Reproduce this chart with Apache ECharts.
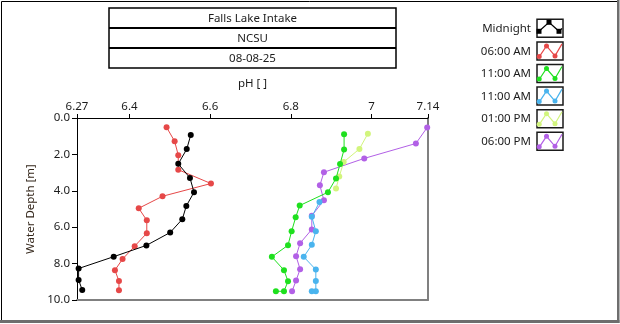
<!DOCTYPE html>
<html>
<head>
<meta charset="utf-8">
<script src="https://cdn.jsdelivr.net/npm/echarts@6/dist/echarts.min.js"></script>
<style>
  html, body { margin: 0; padding: 0; background: #fff; }
  #chart { width: 620px; height: 324px; }
</style>
</head>
<body>
<div id="chart"></div>
<script>
// Header lines
const titleLines = ['Falls Lake Intake', 'NCSU', '08-08-25'];

// pH axis tick labels
const phTicks = [6.27, 6.4, 6.6, 6.8, 7, 7.14];

// Profile names (legend) and colours
const seriesNames = ['Midnight', '06:00 AM', '11:00 AM', '11:00 AM', '01:00 PM', '06:00 PM'];
const seriesColors = ['#000000', '#e64848', '#1ee01e', '#4ab4ee', '#d2f57d', '#b260e6'];

// Depth [m] and pH for each profile
const midnightDepth = [0.93, 1.71, 2.52, 3.29, 4.08, 4.83, 5.56, 6.29, 7.0, 7.62, 8.27, 8.9, 9.45];
const midnightPH    = [6.552, 6.542, 6.521, 6.550, 6.560, 6.541, 6.531, 6.501, 6.442, 6.361, 6.274, 6.274, 6.283];

const am6Depth = [0.51, 1.28, 2.04, 2.84, 3.6, 4.3, 4.96, 5.62, 6.33, 7.04, 7.75, 8.36, 8.96, 9.47];
const am6PH    = [6.492, 6.512, 6.521, 6.521, 6.602, 6.482, 6.423, 6.443, 6.443, 6.413, 6.383, 6.364, 6.374, 6.374];

const am11aDepth = [0.89, 1.73, 2.53, 3.32, 4.08, 4.81, 5.46, 6.22, 6.99, 7.63, 8.36, 8.97, 9.52, 9.52];
const am11aPH    = [6.932, 6.932, 6.922, 6.912, 6.892, 6.822, 6.812, 6.802, 6.793, 6.753, 6.783, 6.793, 6.783, 6.763];

const am11bDepth = [4.62, 5.43, 6.22, 6.97, 7.63, 8.33, 8.96, 9.52, 9.52];
const am11bPH    = [6.871, 6.852, 6.862, 6.852, 6.832, 6.862, 6.862, 6.862, 6.852];

const pm1Depth = [0.86, 1.70, 2.42, 3.22, 3.87];
const pm1PH    = [6.991, 6.970, 6.931, 6.920, 6.912];

const pm6Depth = [0.52, 1.40, 2.22, 2.98, 3.70, 4.52, 5.37, 6.12, 6.88, 7.59, 8.31, 8.93, 9.52];
const pm6PH    = [7.138, 7.110, 6.982, 6.882, 6.872, 6.882, 6.852, 6.852, 6.823, 6.813, 6.823, 6.813, 6.803];

const profiles = [
  [midnightPH, midnightDepth],
  [am6PH, am6Depth],
  [am11aPH, am11aDepth],
  [am11bPH, am11bDepth],
  [pm1PH, pm1Depth],
  [pm6PH, pm6Depth]
];

const FONT = '"Noto Sans", "Open Sans", sans-serif';
const FS = 11.5;
const TEXT = '#1c1c1c';

const chart = echarts.init(document.getElementById('chart'), null, { renderer: 'canvas' });

const series = profiles.map((p, i) => ({
  name: seriesNames[i],
  type: 'line',
  xAxisIndex: 0,
  yAxisIndex: 0,
  data: p[0].map((v, k) => [v, p[1][k]]),
  symbol: 'circle',
  symbolSize: 6,
  showSymbol: true,
  clip: false,
  lineStyle: { color: seriesColors[i], width: 1 },
  itemStyle: { color: seriesColors[i] },
  emphasis: { disabled: true },
  z: 10 - i
}));

// ---- header boxes ----
const graphics = [];
const hx = 109, hw = 287, hy = 8, rowH = 20;
graphics.push({
  type: 'rect', shape: { x: hx, y: hy, width: hw, height: rowH * 3 },
  style: { fill: '#fff', stroke: '#000', lineWidth: 1.5 }
});
for (let r = 1; r < 3; r++) {
  graphics.push({
    type: 'line', shape: { x1: hx, y1: hy + rowH * r, x2: hx + hw, y2: hy + rowH * r },
    style: { stroke: '#000', lineWidth: 2.2 }
  });
}
titleLines.forEach((t, r) => {
  graphics.push({
    type: 'text', x: hx + hw / 2, y: hy + rowH * r + rowH / 2 + 0.5,
    style: { text: t, fill: TEXT, font: FS + 'px ' + FONT, align: 'center', verticalAlign: 'middle' }
  });
});

// ---- legend with zigzag swatches ----
const lgTop = 28.3, lgStep = 22.6, boxX = 537, boxW = 26, boxH = 18;
seriesNames.forEach((name, i) => {
  const cy = lgTop + i * lgStep;
  const by = cy - boxH / 2;
  graphics.push({
    type: 'text', x: 531, y: cy + 0.5,
    style: { text: name, fill: TEXT, font: FS + 'px ' + FONT, align: 'right', verticalAlign: 'middle' }
  });
  graphics.push({
    type: 'rect', shape: { x: boxX, y: by, width: boxW, height: boxH },
    style: { fill: '#fff', stroke: '#1a1a1a', lineWidth: 1.5 }
  });
  const col = seriesColors[i];
  let pts, marks, shape;
  if (i === 0) {
    pts = [[boxX + 2, by + 12], [boxX + 12, by + 3], [boxX + 22, by + 12], [boxX + 25, by + 9]];
    marks = [pts[0], pts[1], pts[2]];
    shape = 'rect';
  } else {
    pts = [[boxX + 1.5, by + 16], [boxX + 9.5, by + 4], [boxX + 18, by + 14], [boxX + 25, by + 2]];
    marks = [[boxX + 2.2, by + 14.5], pts[1], pts[2]];
    shape = 'circle';
  }
  graphics.push({
    type: 'polyline', shape: { points: pts },
    style: { stroke: col, lineWidth: 1.2, fill: null }
  });
  marks.forEach(m => {
    if (shape === 'rect') {
      graphics.push({ type: 'rect', shape: { x: m[0] - 2.5, y: m[1] - 2.5, width: 5, height: 5 }, style: { fill: col } });
    } else {
      graphics.push({ type: 'circle', shape: { cx: m[0], cy: m[1], r: 2.5 }, style: { fill: col } });
    }
  });
});

// ---- outer frame ----
graphics.push({ type: 'line', shape: { x1: 1.5, y1: 1.5, x2: 617, y2: 1.5 }, style: { stroke: '#000', lineWidth: 1 } });
graphics.push({ type: 'line', shape: { x1: 1.5, y1: 1.5, x2: 1.5, y2: 321 }, style: { stroke: '#000', lineWidth: 1 } });
graphics.push({ type: 'rect', shape: { x: 617, y: 0, width: 2.5, height: 323 }, style: { fill: '#6e6e6e' } });
graphics.push({ type: 'rect', shape: { x: 0, y: 320, width: 619.5, height: 3 }, style: { fill: '#6e6e6e' } });

const option = {
  animation: false,
  backgroundColor: '#ffffff',
  grid: { left: 77, top: 118, right: 192, bottom: 24, containLabel: false },
  xAxis: [
    {
      type: 'value', position: 'top', min: 6.27, max: 7.14,
      name: 'pH [ ]', nameLocation: 'middle', nameGap: 28,
      nameTextStyle: { color: TEXT, fontSize: FS, fontFamily: FONT },
      axisLine: { show: true, onZero: false, lineStyle: { color: '#000', width: 1 } },
      axisTick: { show: true, inside: false, length: 4, customValues: phTicks, lineStyle: { color: '#000' } },
      axisLabel: {
        show: true, customValues: phTicks, margin: 5,
        color: TEXT, fontSize: FS, fontFamily: FONT,
        formatter: v => String(v)
      },
      splitLine: { show: false }
    },
    {
      type: 'value', position: 'bottom', min: 6.27, max: 7.14,
      axisLine: { show: true, onZero: false, lineStyle: { color: '#808080', width: 2 } },
      axisTick: { show: false }, axisLabel: { show: false }, splitLine: { show: false }
    }
  ],
  yAxis: [
    {
      type: 'value', inverse: true, min: 0, max: 10, interval: 2,
      name: 'Water Depth [m]', nameLocation: 'middle', nameGap: 40, nameRotate: 90,
      nameTextStyle: { color: '#33261a', fontSize: FS, fontFamily: FONT },
      axisLine: { show: true, onZero: false, lineStyle: { color: '#000', width: 1 } },
      axisTick: { show: true, inside: false, length: 5, lineStyle: { color: '#000' } },
      axisLabel: {
        show: true, margin: 7, color: TEXT, fontSize: FS, fontFamily: FONT,
        formatter: v => v.toFixed(1)
      },
      splitLine: { show: false }
    },
    {
      type: 'value', position: 'right', inverse: true, min: 0, max: 10,
      axisLine: { show: true, onZero: false, lineStyle: { color: '#808080', width: 2 } },
      axisTick: { show: false }, axisLabel: { show: false }, splitLine: { show: false }
    }
  ],
  series: series,
  graphic: graphics
};

chart.setOption(option);
</script>
</body>
</html>
